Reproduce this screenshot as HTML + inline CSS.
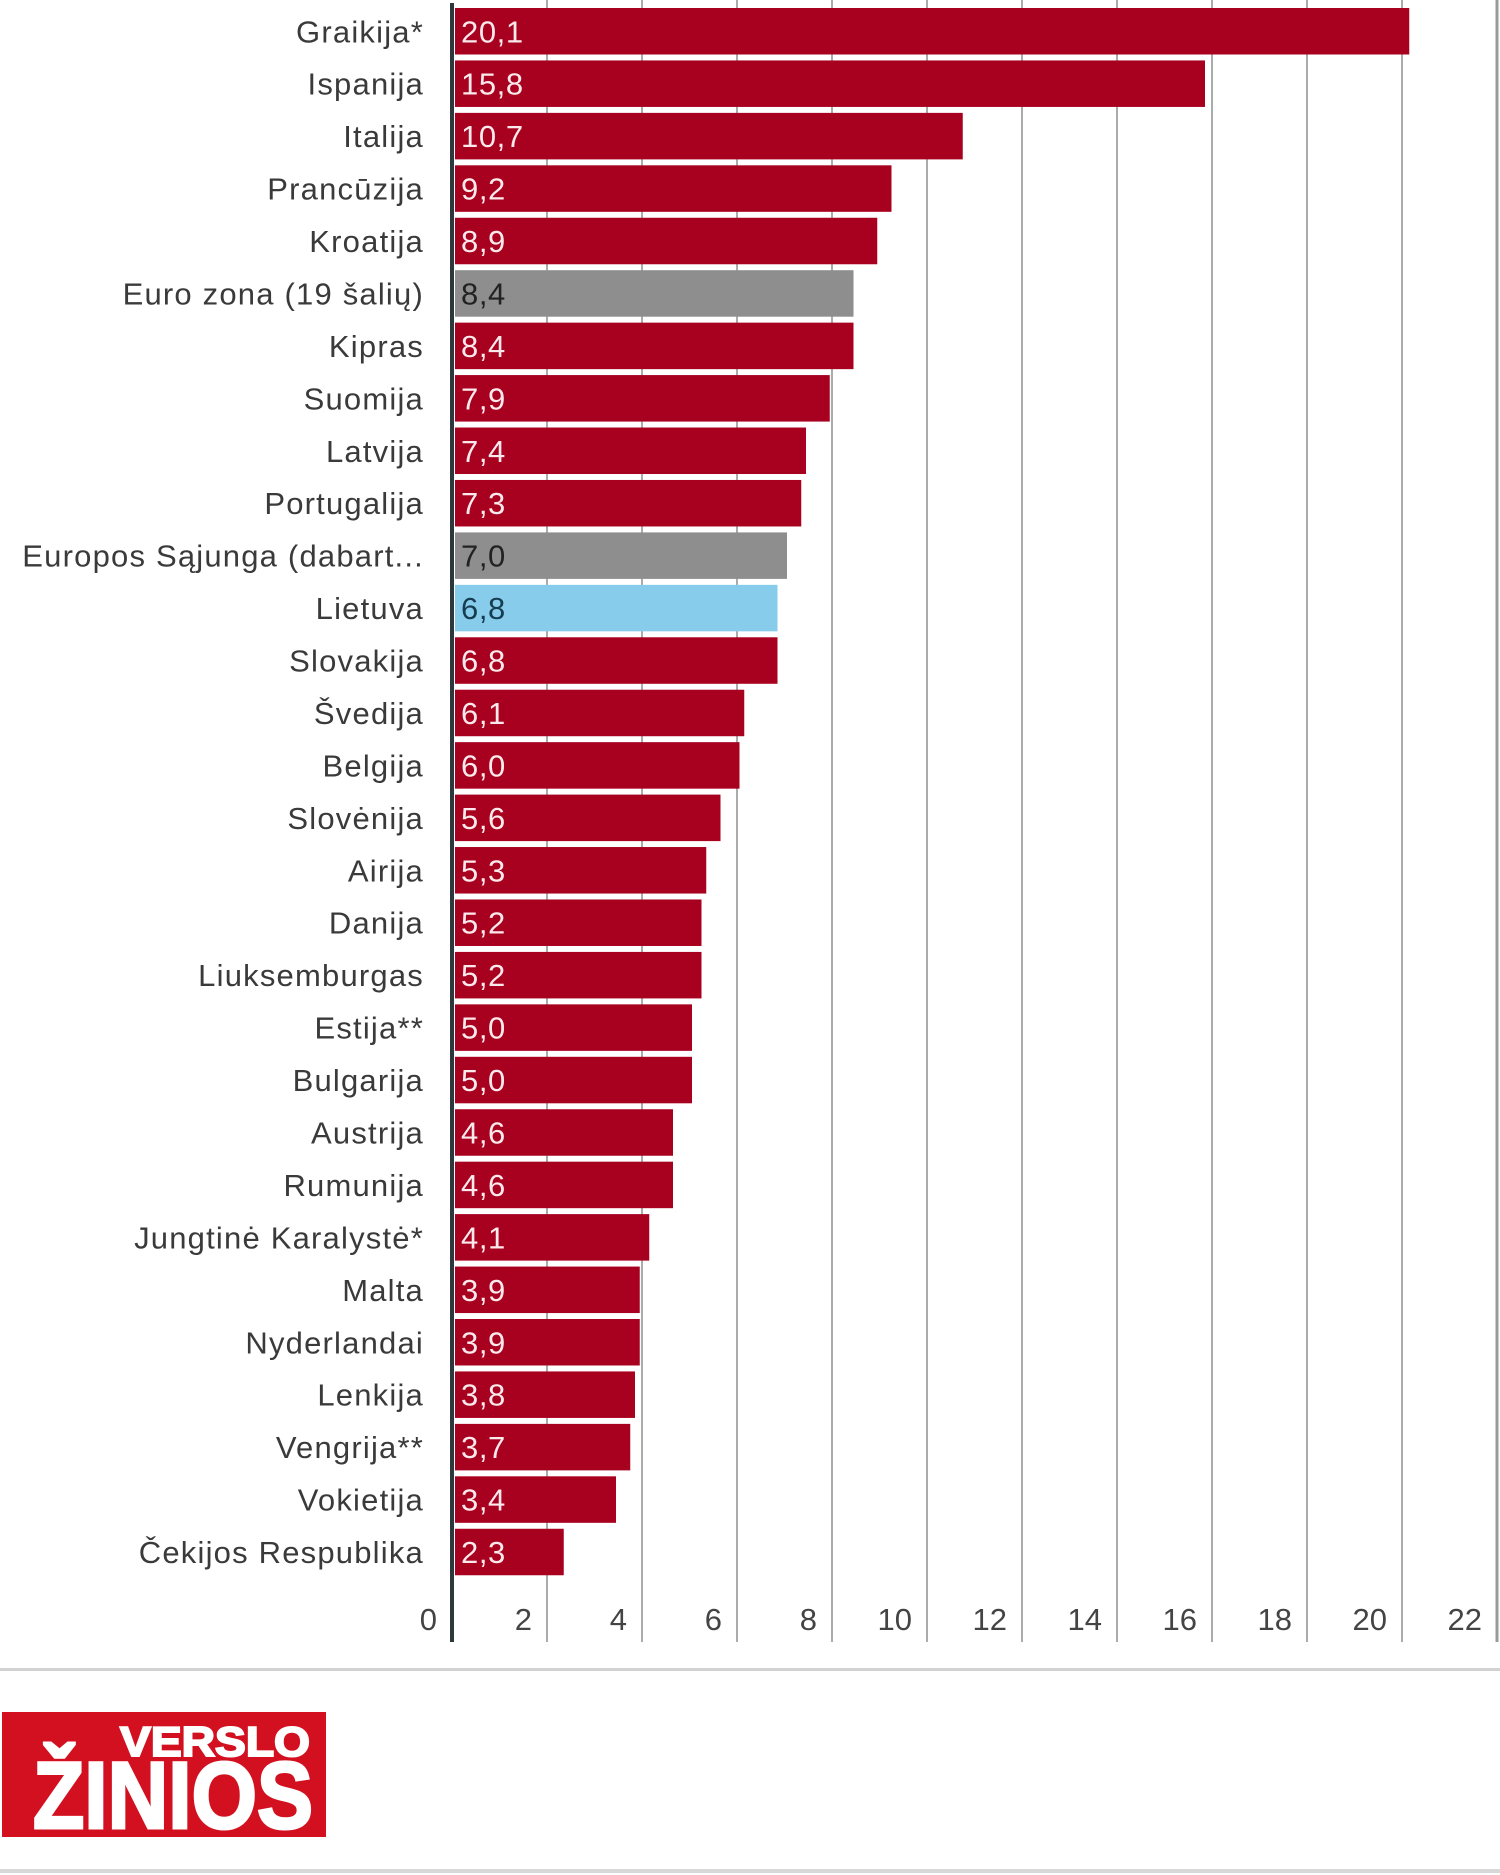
<!DOCTYPE html>
<html><head><meta charset="utf-8"><style>
html,body{margin:0;padding:0;background:#fff;}
svg{display:block;}
.lb{font-family:"Liberation Sans",sans-serif;font-size:31px;letter-spacing:1.2px;fill:#3a3a3a;text-anchor:end;}
.v{font-family:"Liberation Sans",sans-serif;font-size:31px;letter-spacing:0.6px;fill:#fbe9ec;}
.vd{fill:#222;}
.vb{fill:#163c52;}
.tk{font-family:"Liberation Sans",sans-serif;font-size:31px;fill:#444;text-anchor:end;}
</style></head><body>
<svg width="1500" height="1875" viewBox="0 0 1500 1875" xmlns="http://www.w3.org/2000/svg">
<rect width="1500" height="1875" fill="#fff"/>
<!-- gridlines -->
<g stroke="#ababab" stroke-width="2">
<line x1="547" y1="0" x2="547" y2="1642"/>
<line x1="642" y1="0" x2="642" y2="1642"/>
<line x1="737" y1="0" x2="737" y2="1642"/>
<line x1="832" y1="0" x2="832" y2="1642"/>
<line x1="927" y1="0" x2="927" y2="1642"/>
<line x1="1022" y1="0" x2="1022" y2="1642"/>
<line x1="1117" y1="0" x2="1117" y2="1642"/>
<line x1="1212" y1="0" x2="1212" y2="1642"/>
<line x1="1307" y1="0" x2="1307" y2="1642"/>
<line x1="1402" y1="0" x2="1402" y2="1642"/>
</g>
<line x1="1497" y1="0" x2="1497" y2="1642" stroke="#9a9a9a" stroke-width="3"/>
<!-- bars -->
<g fill="#a8001f">
<rect x="455" y="8" width="954.25" height="46.5"/>
<rect x="455" y="60.44" width="750" height="46.5"/>
<rect x="455" y="112.88" width="507.75" height="46.5"/>
<rect x="455" y="165.32" width="436.5" height="46.5"/>
<rect x="455" y="217.76" width="422.25" height="46.5"/>
<rect x="455" y="322.64" width="398.5" height="46.5"/>
<rect x="455" y="375.08" width="374.75" height="46.5"/>
<rect x="455" y="427.52" width="351" height="46.5"/>
<rect x="455" y="479.96" width="346.25" height="46.5"/>
<rect x="455" y="637.28" width="322.5" height="46.5"/>
<rect x="455" y="689.72" width="289.25" height="46.5"/>
<rect x="455" y="742.16" width="284.5" height="46.5"/>
<rect x="455" y="794.6" width="265.5" height="46.5"/>
<rect x="455" y="847.04" width="251.25" height="46.5"/>
<rect x="455" y="899.48" width="246.5" height="46.5"/>
<rect x="455" y="951.92" width="246.5" height="46.5"/>
<rect x="455" y="1004.36" width="237" height="46.5"/>
<rect x="455" y="1056.8" width="237" height="46.5"/>
<rect x="455" y="1109.24" width="218" height="46.5"/>
<rect x="455" y="1161.68" width="218" height="46.5"/>
<rect x="455" y="1214.12" width="194.25" height="46.5"/>
<rect x="455" y="1266.56" width="184.75" height="46.5"/>
<rect x="455" y="1319" width="184.75" height="46.5"/>
<rect x="455" y="1371.44" width="180" height="46.5"/>
<rect x="455" y="1423.88" width="175.25" height="46.5"/>
<rect x="455" y="1476.32" width="161" height="46.5"/>
<rect x="455" y="1528.76" width="108.75" height="46.5"/>
</g>
<rect x="455" y="270.2" width="398.5" height="46.5" fill="#8e8e8e"/>
<rect x="455" y="532.4" width="332" height="46.5" fill="#8e8e8e"/>
<rect x="455" y="584.84" width="322.5" height="46.5" fill="#87cceb"/>
<!-- axis -->
<line x1="452" y1="3" x2="452" y2="1642" stroke="#2c383c" stroke-width="4"/>
<!-- category labels -->
<g class="lb">
<text x="424" y="42.25">Graikija*</text>
<text x="424" y="94.69">Ispanija</text>
<text x="424" y="147.13">Italija</text>
<text x="424" y="199.57">Prancūzija</text>
<text x="424" y="252.01">Kroatija</text>
<text x="424" y="304.45">Euro zona (19 šalių)</text>
<text x="424" y="356.89">Kipras</text>
<text x="424" y="409.33">Suomija</text>
<text x="424" y="461.77">Latvija</text>
<text x="424" y="514.21">Portugalija</text>
<text x="424" y="566.65">Europos Sąjunga (dabart...</text>
<text x="424" y="619.09">Lietuva</text>
<text x="424" y="671.53">Slovakija</text>
<text x="424" y="723.97">Švedija</text>
<text x="424" y="776.41">Belgija</text>
<text x="424" y="828.85">Slovėnija</text>
<text x="424" y="881.29">Airija</text>
<text x="424" y="933.73">Danija</text>
<text x="424" y="986.17">Liuksemburgas</text>
<text x="424" y="1038.61">Estija**</text>
<text x="424" y="1091.05">Bulgarija</text>
<text x="424" y="1143.49">Austrija</text>
<text x="424" y="1195.93">Rumunija</text>
<text x="424" y="1248.37">Jungtinė Karalystė*</text>
<text x="424" y="1300.81">Malta</text>
<text x="424" y="1353.25">Nyderlandai</text>
<text x="424" y="1405.69">Lenkija</text>
<text x="424" y="1458.13">Vengrija**</text>
<text x="424" y="1510.57">Vokietija</text>
<text x="424" y="1563.01">Čekijos Respublika</text>
</g>
<!-- value labels -->
<g class="v">
<text x="461" y="42.25">20,1</text>
<text x="461" y="94.69">15,8</text>
<text x="461" y="147.13">10,7</text>
<text x="461" y="199.57">9,2</text>
<text x="461" y="252.01">8,9</text>
<text x="461" y="304.45" class="vd">8,4</text>
<text x="461" y="356.89">8,4</text>
<text x="461" y="409.33">7,9</text>
<text x="461" y="461.77">7,4</text>
<text x="461" y="514.21">7,3</text>
<text x="461" y="566.65" class="vd">7,0</text>
<text x="461" y="619.09" class="vb">6,8</text>
<text x="461" y="671.53">6,8</text>
<text x="461" y="723.97">6,1</text>
<text x="461" y="776.41">6,0</text>
<text x="461" y="828.85">5,6</text>
<text x="461" y="881.29">5,3</text>
<text x="461" y="933.73">5,2</text>
<text x="461" y="986.17">5,2</text>
<text x="461" y="1038.61">5,0</text>
<text x="461" y="1091.05">5,0</text>
<text x="461" y="1143.49">4,6</text>
<text x="461" y="1195.93">4,6</text>
<text x="461" y="1248.37">4,1</text>
<text x="461" y="1300.81">3,9</text>
<text x="461" y="1353.25">3,9</text>
<text x="461" y="1405.69">3,8</text>
<text x="461" y="1458.13">3,7</text>
<text x="461" y="1510.57">3,4</text>
<text x="461" y="1563.01">2,3</text>
</g>
<!-- tick labels -->
<g class="tk">
<text x="437" y="1630">0</text>
<text x="532" y="1630">2</text>
<text x="627" y="1630">4</text>
<text x="722" y="1630">6</text>
<text x="817" y="1630">8</text>
<text x="912" y="1630">10</text>
<text x="1007" y="1630">12</text>
<text x="1102" y="1630">14</text>
<text x="1197" y="1630">16</text>
<text x="1292" y="1630">18</text>
<text x="1387" y="1630">20</text>
<text x="1482" y="1630">22</text>
</g>
<!-- separators -->
<rect x="0" y="1668" width="1500" height="3" fill="#d2d2d2"/>
<rect x="0" y="1869" width="1500" height="4" fill="#d8d8d8"/>
<!-- logo -->
<rect x="2" y="1712" width="324" height="125" fill="#d3101f"/>
<text x="120" y="1756" textLength="190" lengthAdjust="spacingAndGlyphs" font-family="Liberation Sans, sans-serif" font-weight="bold" font-size="42" fill="#fff" stroke="#fff" stroke-width="2">VERSLO</text>
<text x="33" y="1828" textLength="280" lengthAdjust="spacingAndGlyphs" font-family="Liberation Sans, sans-serif" font-weight="bold" font-size="95" fill="#fff" stroke="#fff" stroke-width="3">ŽINIOS</text>
</svg>
</body></html>
